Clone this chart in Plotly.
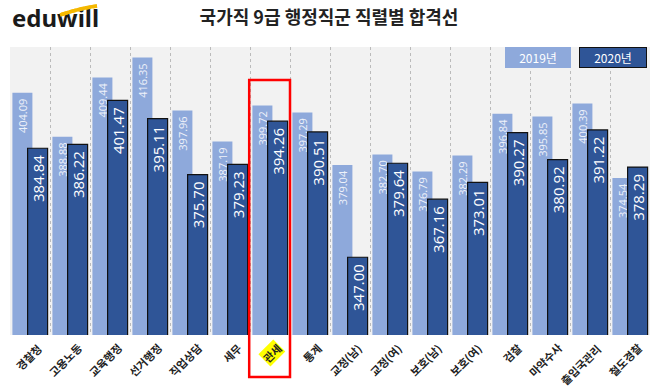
import plotly.graph_objects as go

categories = ["경찰청", "고용노동", "교육행정", "선거행정", "직업상담", "세무", "관세", "통계",
              "교정(남)", "교정(여)", "보호(남)", "보호(여)", "검찰", "마약수사", "출입국관리", "철도경찰"]
v2019 = [404.09, 388.88, 409.44, 416.35, 397.96, 387.19, 399.72, 397.29,
         379.04, 382.70, 376.79, 382.29, 396.84, 395.85, 400.39, 374.54]
v2020 = [384.84, 386.22, 401.47, 395.11, 375.70, 379.23, 394.26, 390.51,
         347.00, 379.64, 367.16, 373.01, 390.27, 380.92, 391.22, 378.29]
series_names = ["2019년", "2020년"]
title_text = "국가직 9급 행정직군 직렬별 합격선"
logo_text = "eduwill"
highlight = "관세"

LIGHT = "#8EA9DB"
DARK = "#2F5597"
FONT = "Noto Sans CJK KR"
NB = "\u00a0"
W, H = 658, 390

xs = list(range(len(categories)))
fig = go.Figure()
fig.add_trace(go.Bar(
    x=xs, y=v2019, name=series_names[0], width=0.5, offset=-0.44,
    marker=dict(color=LIGHT, line=dict(width=0)),
    text=[f"{v:.2f}{NB}" for v in v2019], textposition="inside", insidetextanchor="end",
    textangle=-90, constraintext="none",
    textfont=dict(family="Open Sans", size=11, color="#EEF2FA"),
))
fig.add_trace(go.Bar(
    x=xs, y=v2020, name=series_names[1], width=0.5, offset=-0.06,
    marker=dict(color=DARK, line=dict(width=1.2, color="#111111")),
    text=[f"{v:.2f}{NB}" for v in v2020], textposition="inside", insidetextanchor="end",
    textangle=-90, constraintext="none",
    textfont=dict(family="Open Sans", size=15, color="white"),
))

# logo text on the full-page overlay axes (pixel coordinates)
fig.add_trace(go.Scatter(
    x=[12], y=[21], xaxis="x2", yaxis="y2", mode="text", text=[f"<b>{logo_text}</b>"],
    textposition="middle right", hoverinfo="skip",
    textfont=dict(family="Noto Sans, sans-serif", size=24, color="#1a1a1a"),
))

annotations = []
for i, c in enumerate(categories):
    annotations.append(dict(
        x=i + 0.4, y=320, xref="x", yref="y", text=f"<b>{c}</b>", showarrow=False,
        textangle=-45, xanchor="right", yanchor="top", yshift=-4,
        font=dict(family=FONT, size=11, color="#222222"),
        bgcolor="#FFFF00" if c == highlight else "rgba(0,0,0,0)",
        borderpad=0,
    ))

# legend boxes
annotations.append(dict(x=538, y=47, xref="x2", yref="y2", text=series_names[0],
                        showarrow=False, xanchor="center", yanchor="top",
                        bgcolor=LIGHT, bordercolor=LIGHT, borderwidth=1, borderpad=1, width=62,
                        font=dict(family=FONT, size=12, color="white")))
annotations.append(dict(x=613, y=47, xref="x2", yref="y2", text=series_names[1],
                        showarrow=False, xanchor="center", yanchor="top",
                        bgcolor=DARK, bordercolor="#111111", borderwidth=1, borderpad=1, width=64,
                        font=dict(family=FONT, size=12, color="white")))

# logo swoosh drawn as short arrowless annotation segments (pixel coordinates)
sw_x = [60, 68, 76, 84, 91, 97]
sw_y = [15, 12.3, 10.2, 8.5, 7.1, 6]
for k in range(len(sw_x) - 1):
    annotations.append(dict(
        x=sw_x[k + 1], y=sw_y[k + 1], ax=sw_x[k], ay=sw_y[k],
        xref="x2", yref="y2", axref="x2", ayref="y2", text="",
        showarrow=True, arrowhead=0, arrowwidth=3.5, arrowcolor="#F5B800",
        standoff=0, startstandoff=0,
    ))

shapes = [
    dict(type="rect", xref="x", yref="y", x0=-0.5, x1=15.5, y0=320, y1=420,
         fillcolor="#F2F2F2", line=dict(width=0), layer="below"),
    dict(type="rect", xref="x", yref="y2", x0=5.48, x1=6.5, y0=80, y1=377,
         line=dict(color="#FF0000", width=2.5), fillcolor="rgba(0,0,0,0)", layer="above"),
    dict(type="path", xref="x2", yref="y2", path="M 60 15 Q 84 7 97 6",
         line=dict(color="#F5B800", width=3.5), fillcolor="rgba(0,0,0,0)", layer="above"),
]

fig.update_layout(
    width=W, height=H,
    margin=dict(l=0, r=0, t=0, b=0),
    paper_bgcolor="white", plot_bgcolor="rgba(0,0,0,0)",
    showlegend=False,
    title=dict(text=f"<b>{title_text}</b>", x=0.5, xanchor="center", y=1 - 18 / H, yanchor="middle",
               font=dict(family=FONT, size=18, color="#222222")),
    xaxis=dict(domain=[10 / W, 650 / W], range=[-0.5, 15.5], tickmode="array",
               tickvals=[i - 0.5 for i in range(len(categories) + 1)],
               showticklabels=False, showgrid=True, gridcolor="#BBBBBB", griddash="dot",
               gridwidth=1, zeroline=False, showline=False, ticks="", fixedrange=True),
    yaxis=dict(domain=[(H - 335) / H, (H - 47) / H], range=[320, 420], visible=False,
               showgrid=False, fixedrange=True),
    xaxis2=dict(domain=[0, 1], range=[0, W], visible=False, anchor="y2", fixedrange=True),
    yaxis2=dict(domain=[0, 1], range=[H, 0], visible=False, anchor="x2", fixedrange=True),
    annotations=annotations, shapes=shapes,
    font=dict(family=FONT),
)

fig.write_html("out.html")
